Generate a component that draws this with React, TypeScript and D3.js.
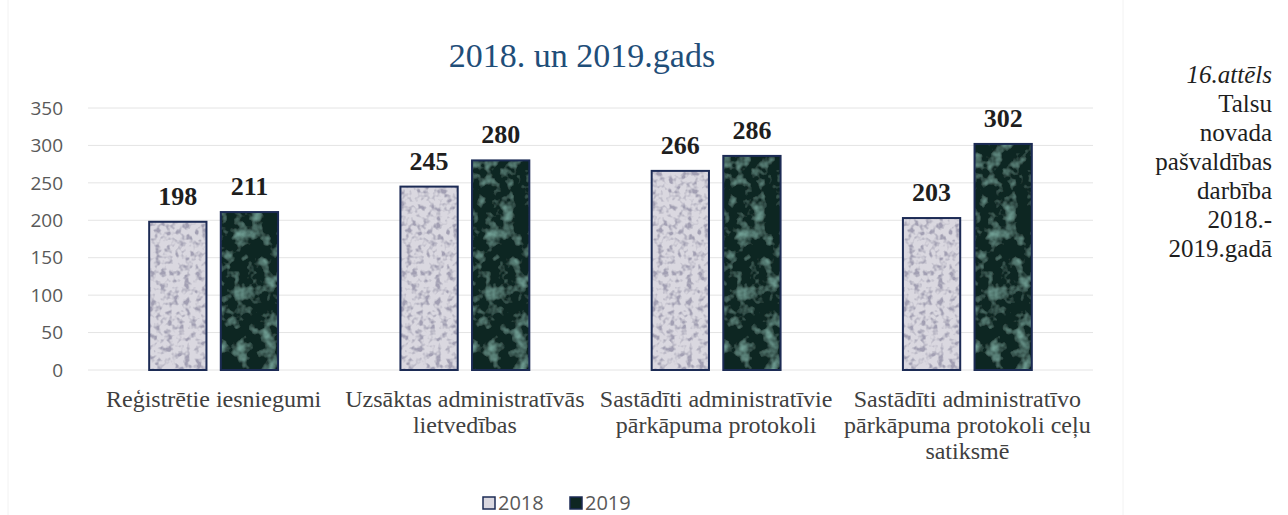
import React from "react";
import * as d3 from "d3";

const categories = [
  "Reģistrētie iesniegumi",
  "Uzsāktas administratīvās lietvedības",
  "Sastādīti administratīvie pārkāpuma protokoli",
  "Sastādīti administratīvo pārkāpuma protokoli ceļu satiksmē",
];
const categoryLines = [
  ["Reģistrētie iesniegumi"],
  ["Uzsāktas administratīvās", "lietvedības"],
  ["Sastādīti administratīvie", "pārkāpuma protokoli"],
  ["Sastādīti administratīvo", "pārkāpuma protokoli ceļu", "satiksmē"],
];
const seriesNames = ["2018", "2019"];
const values2018 = [198, 245, 266, 203];
const values2019 = [211, 280, 286, 302];
const yTicks = [0, 50, 100, 150, 200, 250, 300, 350];
const titleText = "2018. un 2019.gads";
const captionLines = ["Talsu", "novada", "pašvaldības", "darbība", "2018.-", "2019.gadā"];
const captionTitle = "16.attēls";

const W = 1288;
const H = 515;
const plot = { left: 88, right: 1093, top: 108, bottom: 370 };

export default function App() {
  const x0 = d3
    .scaleBand<string>()
    .domain(categories)
    .range([plot.left, plot.right])
    .paddingInner(0.487)
    .paddingOuter(0.2435);
  const x1 = d3
    .scaleBand<string>()
    .domain(seriesNames)
    .range([0, x0.bandwidth()])
    .paddingInner(0.2);
  const y = d3.scaleLinear().domain([0, 350]).range([plot.bottom, plot.top]);

  const series = [values2018, values2019];
  const sans = "'Open Sans', 'Noto Sans', sans-serif";
  const serif = "'Liberation Serif', 'Times New Roman', serif";

  return (
    <svg width={W} height={H} style={{ display: "block", position: "absolute", left: 0, top: 0, background: "#fff" }}>
      <defs>
        <filter id="tex2018" x="0" y="0" width="1" height="1">
          <feTurbulence type="fractalNoise" baseFrequency="0.17" numOctaves="2" seed="4" result="n" />
          <feColorMatrix
            in="n"
            type="matrix"
            values="0 0 0 0 0.36  0 0 0 0 0.35  0 0 0 0 0.45  4 0 0 0 -1.85"
            result="spots"
          />
          <feComposite in="spots" in2="SourceGraphic" operator="atop" />
        </filter>
        <filter id="tex2019" x="0" y="0" width="1" height="1">
          <feTurbulence type="fractalNoise" baseFrequency="0.07" numOctaves="3" seed="9" result="n" />
          <feColorMatrix
            in="n"
            type="matrix"
            values="0 0 0 0 0.17  0 0 0 0 0.36  0 0 0 0 0.31  2.6 0 0 0 -1.3"
            result="spots"
          />
          <feComposite in="spots" in2="SourceGraphic" operator="atop" />
        </filter>
      </defs>

      {/* faint frame artifacts */}
      <line x1={8} x2={8} y1={0} y2={H} stroke="#f2f2f2" />
      <line x1={1123} x2={1123} y1={0} y2={H} stroke="#f2f2f2" />

      {/* title */}
      <text x={582} y={67} textAnchor="middle" fontFamily={serif} fontSize={34} fill="#1f4e79">
        {titleText}
      </text>

      {/* gridlines & y labels */}
      {yTicks.map((t) => (
        <g key={t}>
          <line x1={plot.left} x2={plot.right} y1={y(t)} y2={y(t)} stroke="#e4e4e4" strokeWidth={1} />
          <text
            x={63}
            y={y(t)}
            dy="0.35em"
            textAnchor="end"
            fontFamily={sans}
            fontSize={19}
            fill="#595959"
          >
            {t}
          </text>
        </g>
      ))}

      {/* bars */}
      {categories.map((c, i) => (
        <g key={c} transform={`translate(${x0(c)},0)`}>
          {seriesNames.map((s, j) => {
            const v = series[j][i];
            const bx = x1(s) as number;
            const bw = x1.bandwidth();
            return (
              <g key={s}>
                <rect
                  x={bx}
                  y={y(v)}
                  width={bw}
                  height={y(0) - y(v)}
                  fill={j === 0 ? "#dad8e0" : "#0e2622"}
                  filter={j === 0 ? "url(#tex2018)" : "url(#tex2019)"}
                />
                <rect
                  x={bx}
                  y={y(v)}
                  width={bw}
                  height={y(0) - y(v)}
                  fill="none"
                  stroke="#1c2b55"
                  strokeWidth={2}
                />
                <text
                  x={bx + bw / 2}
                  y={y(v) - 17}
                  textAnchor="middle"
                  fontFamily={serif}
                  fontWeight="bold"
                  fontSize={26}
                  fill="#1e1e1e"
                >
                  {v}
                </text>
              </g>
            );
          })}
        </g>
      ))}

      {/* category labels */}
      {categories.map((c, i) => (
        <text
          key={c}
          x={(x0(c) as number) + x0.bandwidth() / 2}
          y={407}
          textAnchor="middle"
          fontFamily={serif}
          fontSize={24}
          fill="#404040"
        >
          {categoryLines[i].map((l, k) => (
            <tspan key={k} x={(x0(c) as number) + x0.bandwidth() / 2} dy={k === 0 ? 0 : 26}>
              {l}
            </tspan>
          ))}
        </text>
      ))}

      {/* legend */}
      {seriesNames.map((s, j) => {
        const lx = j === 0 ? 483 : 570;
        return (
          <g key={s}>
            <rect
              x={lx}
              y={497}
              width={12}
              height={12}
              fill={j === 0 ? "#dad8e0" : "#0e2622"}
              stroke="#1c2b55"
              strokeWidth={1.5}
            />
            <text x={lx + 15} y={503} dy="0.36em" fontFamily={sans} fontSize={20} fill="#595959">
              {s}
            </text>
          </g>
        );
      })}

      {/* caption */}
      <text x={1272} y={83} textAnchor="end" fontFamily={serif} fontSize={25} fontStyle="italic" fill="#1e1e1e">
        {captionTitle}
      </text>
      {captionLines.map((l, k) => (
        <text key={k} x={1272} y={112 + k * 29} textAnchor="end" fontFamily={serif} fontSize={25} fill="#1e1e1e">
          {l}
        </text>
      ))}
    </svg>
  );
}
